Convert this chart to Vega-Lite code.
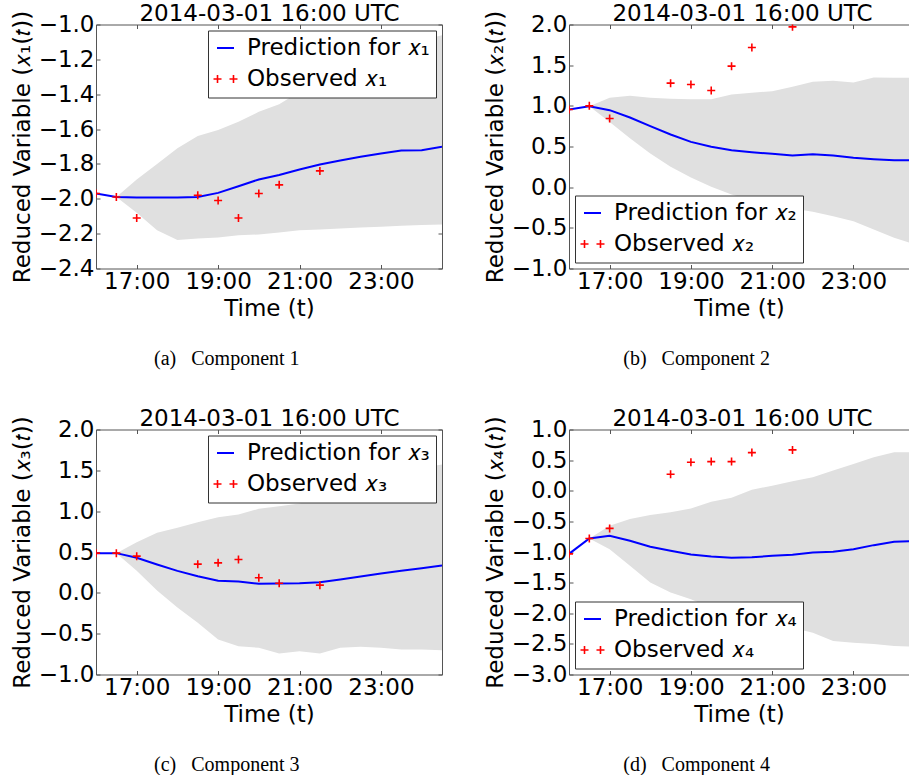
{
"$schema": "https://vega.github.io/schema/vega-lite/v6.json",
"background": "white",
"padding": {"left": 11, "top": 1.5, "right": 0, "bottom": 0},
"config": {
  "font": "DejaVu Sans",
  "view": {"stroke": null},
  "axis": {"labelFont": "DejaVu Sans", "labelFontSize": 23, "labelColor": "black", "titleFont": "DejaVu Sans", "titleFontSize": 23, "titleFontWeight": "normal", "titleColor": "black", "grid": false, "domainColor": "#555", "tickColor": "#555", "tickSize": -4, "labelPadding": 6, "labelOverlap": false, "labelFlush": false, "domainWidth": 1, "tickWidth": 1},
  "axisX": {"titlePadding": 4},
  "legend": {"labelFont": "DejaVu Sans", "labelFontSize": 23, "labelColor": "black", "labelLimit": 400, "symbolSize": 289, "symbolStrokeWidth": 2, "padding": 6, "rowPadding": 7, "labelOffset": 10, "strokeColor": "#333", "fillColor": "white", "offset": 6, "cornerRadius": 0},
  "title": {"font": "DejaVu Sans", "fontWeight": "normal", "color": "black"}
},
"datasets": {
  "c1": [
    {"t":"2014-03-01T16:00","pred":-1.97,"lo":null,"hi":null,"obs":-1.97},
    {"t":"2014-03-01T16:30","pred":-1.99,"lo":-1.99,"hi":-1.99,"obs":-1.99},
    {"t":"2014-03-01T17:00","pred":-1.993,"lo":-2.08,"hi":-1.89,"obs":-2.11},
    {"t":"2014-03-01T17:30","pred":-1.993,"lo":-2.18,"hi":-1.8,"obs":null},
    {"t":"2014-03-01T18:00","pred":-1.993,"lo":-2.237,"hi":-1.71,"obs":null},
    {"t":"2014-03-01T18:30","pred":-1.99,"lo":-2.228,"hi":-1.64,"obs":-1.98},
    {"t":"2014-03-01T19:00","pred":-1.966,"lo":-2.222,"hi":-1.606,"obs":-2.01},
    {"t":"2014-03-01T19:30","pred":-1.928,"lo":-2.209,"hi":-1.558,"obs":-2.11},
    {"t":"2014-03-01T20:00","pred":-1.889,"lo":-2.205,"hi":-1.501,"obs":-1.97},
    {"t":"2014-03-01T20:30","pred":-1.864,"lo":-2.193,"hi":-1.457,"obs":-1.92},
    {"t":"2014-03-01T21:00","pred":-1.832,"lo":-2.18,"hi":-1.386,"obs":null},
    {"t":"2014-03-01T21:30","pred":-1.803,"lo":-2.176,"hi":-1.32,"obs":-1.84},
    {"t":"2014-03-01T22:00","pred":-1.78,"lo":-2.17,"hi":-1.262,"obs":null},
    {"t":"2014-03-01T22:30","pred":-1.759,"lo":-2.165,"hi":-1.214,"obs":null},
    {"t":"2014-03-01T23:00","pred":-1.74,"lo":-2.161,"hi":-1.166,"obs":null},
    {"t":"2014-03-01T23:30","pred":-1.723,"lo":-2.155,"hi":-1.128,"obs":null},
    {"t":"2014-03-02T00:00","pred":-1.721,"lo":-2.151,"hi":-1.09,"obs":null},
    {"t":"2014-03-02T00:30","pred":-1.702,"lo":-2.147,"hi":-1.061,"obs":null}
  ],
  "c2": [
    {"t":"2014-03-01T16:00","pred":0.955,"lo":null,"hi":null,"obs":0.955},
    {"t":"2014-03-01T16:30","pred":0.996,"lo":0.996,"hi":0.996,"obs":1.0},
    {"t":"2014-03-01T17:00","pred":0.947,"lo":0.8,"hi":1.1,"obs":0.844},
    {"t":"2014-03-01T17:30","pred":0.857,"lo":0.6,"hi":1.123,"obs":null},
    {"t":"2014-03-01T18:00","pred":0.75,"lo":0.414,"hi":1.098,"obs":null},
    {"t":"2014-03-01T18:30","pred":0.648,"lo":0.25,"hi":1.086,"obs":1.279},
    {"t":"2014-03-01T19:00","pred":0.557,"lo":0.119,"hi":1.082,"obs":1.262},
    {"t":"2014-03-01T19:30","pred":0.496,"lo":0.004,"hi":1.082,"obs":1.189},
    {"t":"2014-03-01T20:00","pred":0.455,"lo":-0.09,"hi":1.139,"obs":1.488},
    {"t":"2014-03-01T20:30","pred":0.43,"lo":-0.16,"hi":1.16,"obs":1.717},
    {"t":"2014-03-01T21:00","pred":0.41,"lo":-0.213,"hi":1.18,"obs":null},
    {"t":"2014-03-01T21:30","pred":0.389,"lo":-0.262,"hi":1.234,"obs":1.971},
    {"t":"2014-03-01T22:00","pred":0.406,"lo":-0.303,"hi":1.295,"obs":null},
    {"t":"2014-03-01T22:30","pred":0.389,"lo":-0.357,"hi":1.307,"obs":null},
    {"t":"2014-03-01T23:00","pred":0.361,"lo":-0.418,"hi":1.287,"obs":null},
    {"t":"2014-03-01T23:30","pred":0.344,"lo":-0.52,"hi":1.348,"obs":null},
    {"t":"2014-03-02T00:00","pred":0.332,"lo":-0.623,"hi":1.344,"obs":null},
    {"t":"2014-03-02T00:30","pred":0.33,"lo":-0.7,"hi":1.344,"obs":null}
  ],
  "c3": [
    {"t":"2014-03-01T16:00","pred":0.486,"lo":null,"hi":null,"obs":0.486},
    {"t":"2014-03-01T16:30","pred":0.486,"lo":0.486,"hi":0.486,"obs":0.486},
    {"t":"2014-03-01T17:00","pred":0.429,"lo":0.27,"hi":0.62,"obs":0.449},
    {"t":"2014-03-01T17:30","pred":0.347,"lo":0.03,"hi":0.735,"obs":null},
    {"t":"2014-03-01T18:00","pred":0.269,"lo":-0.18,"hi":0.796,"obs":null},
    {"t":"2014-03-01T18:30","pred":0.204,"lo":-0.367,"hi":0.865,"obs":0.351},
    {"t":"2014-03-01T19:00","pred":0.147,"lo":-0.571,"hi":0.927,"obs":0.367},
    {"t":"2014-03-01T19:30","pred":0.139,"lo":-0.653,"hi":0.959,"obs":0.408},
    {"t":"2014-03-01T20:00","pred":0.11,"lo":-0.673,"hi":1.029,"obs":0.184},
    {"t":"2014-03-01T20:30","pred":0.114,"lo":-0.743,"hi":1.061,"obs":0.118},
    {"t":"2014-03-01T21:00","pred":0.118,"lo":-0.714,"hi":1.094,"obs":null},
    {"t":"2014-03-01T21:30","pred":0.131,"lo":-0.743,"hi":1.163,"obs":0.094},
    {"t":"2014-03-01T22:00","pred":0.163,"lo":-0.673,"hi":1.245,"obs":null},
    {"t":"2014-03-01T22:30","pred":0.2,"lo":-0.661,"hi":1.327,"obs":null},
    {"t":"2014-03-01T23:00","pred":0.237,"lo":-0.673,"hi":1.4,"obs":null},
    {"t":"2014-03-01T23:30","pred":0.269,"lo":-0.694,"hi":1.469,"obs":null},
    {"t":"2014-03-02T00:00","pred":0.302,"lo":-0.694,"hi":1.531,"obs":null},
    {"t":"2014-03-02T00:30","pred":0.335,"lo":-0.702,"hi":1.571,"obs":null}
  ],
  "c4": [
    {"t":"2014-03-01T16:00","pred":-1.03,"lo":null,"hi":null,"obs":-1.03},
    {"t":"2014-03-01T16:30","pred":-0.779,"lo":-0.779,"hi":-0.779,"obs":-0.779},
    {"t":"2014-03-01T17:00","pred":-0.735,"lo":-0.954,"hi":-0.572,"obs":-0.615},
    {"t":"2014-03-01T17:30","pred":-0.817,"lo":-1.226,"hi":-0.462,"obs":null},
    {"t":"2014-03-01T18:00","pred":-0.915,"lo":-1.499,"hi":-0.397,"obs":null},
    {"t":"2014-03-01T18:30","pred":-0.981,"lo":-1.663,"hi":-0.353,"obs":0.269},
    {"t":"2014-03-01T19:00","pred":-1.041,"lo":-1.772,"hi":-0.288,"obs":0.465},
    {"t":"2014-03-01T19:30","pred":-1.074,"lo":-1.909,"hi":-0.179,"obs":0.476},
    {"t":"2014-03-01T20:00","pred":-1.095,"lo":-2.018,"hi":-0.113,"obs":0.476},
    {"t":"2014-03-01T20:30","pred":-1.085,"lo":-2.1,"hi":0.018,"obs":0.623},
    {"t":"2014-03-01T21:00","pred":-1.063,"lo":-2.165,"hi":0.083,"obs":null},
    {"t":"2014-03-01T21:30","pred":-1.046,"lo":-2.236,"hi":0.154,"obs":0.667},
    {"t":"2014-03-01T22:00","pred":-1.008,"lo":-2.318,"hi":0.22,"obs":null},
    {"t":"2014-03-01T22:30","pred":-0.997,"lo":-2.454,"hi":0.329,"obs":null},
    {"t":"2014-03-01T23:00","pred":-0.954,"lo":-2.482,"hi":0.438,"obs":null},
    {"t":"2014-03-01T23:30","pred":-0.888,"lo":-2.503,"hi":0.547,"obs":null},
    {"t":"2014-03-02T00:00","pred":-0.834,"lo":-2.536,"hi":0.629,"obs":null},
    {"t":"2014-03-02T00:30","pred":-0.82,"lo":-2.547,"hi":0.63,"obs":null}
  ]
},
"resolve": {"scale": {"color": "independent"}},
"spacing": 38,
"vconcat": [
 {"hconcat": [
  {"title": {"text": "(a)\u2002 Component 1", "orient": "bottom", "anchor": "middle", "font": "Liberation Serif", "fontSize": 20, "fontWeight": "normal", "offset": 28},
   "resolve": {"scale": {"color": "independent"}},
   "vconcat": [{
    "width": 346, "height": 244,
    "data": {"name": "c1"},
    "layer": [
     {"transform": [{"filter": "isValid(datum.lo)"}],
      "mark": {"type": "area", "color": "#e0e0e0", "clip": true},
      "encoding": {
       "x": {"field": "t", "type": "temporal", "scale": {"domain": [{"year":2014,"month":3,"date":1,"hours":16},{"year":2014,"month":3,"date":2,"hours":0,"minutes":30}], "nice": false},
             "axis": {"orient": "bottom", "title": "Time (t)", "format": "%H:%M", "values": [{"year":2014,"month":3,"date":1,"hours":17},{"year":2014,"month":3,"date":1,"hours":19},{"year":2014,"month":3,"date":1,"hours":21},{"year":2014,"month":3,"date":1,"hours":23}]}},
       "y": {"field": "lo", "type": "quantitative", "scale": {"domain": [-2.4, -1.0], "nice": false, "zero": false},
             "axis": {"orient": "left", "title": "Reduced Variable (𝑥₁(𝑡))", "format": ".1f", "values": [-2.4,-2.2,-2.0,-1.8,-1.6,-1.4,-1.2,-1.0]}},
       "y2": {"field": "hi"}
      }},
     {"mark": {"type": "line", "strokeWidth": 2, "clip": true},
      "encoding": {
       "x": {"field": "t", "type": "temporal", "axis": {"orient": "top", "labels": false, "title": "2014-03-01 16:00 UTC", "titleBaseline": "alphabetic", "titlePadding": 3.6, "values": [{"year":2014,"month":3,"date":1,"hours":17},{"year":2014,"month":3,"date":1,"hours":19},{"year":2014,"month":3,"date":1,"hours":21},{"year":2014,"month":3,"date":1,"hours":23}]}},
       "y": {"field": "pred", "type": "quantitative", "axis": {"orient": "right", "labels": false, "title": null, "values": [-2.4,-2.2,-2.0,-1.8,-1.6,-1.4,-1.2,-1.0]}},
       "color": {"datum": "Prediction for 𝑥₁", "type": "nominal", "scale": {"domain": ["Prediction for 𝑥₁", "Observed 𝑥₁"], "range": ["#0000ff", "#ff0000"]},
                 "legend": {"title": null, "orient": "top-right", "encode": {"symbols": {"update": {"shape": {"signal": "datum.index === 1 ? 'M-1.41,0H-0.47M-0.94,-0.47V0.47M0.47,0H1.41M0.94,-0.47V0.47' : 'stroke'"}, "strokeWidth": {"signal": "datum.index === 1 ? 1.6 : 2"}}}}}}
      }},
     {"transform": [{"filter": "isValid(datum.obs)"}],
      "mark": {"type": "point", "shape": "M-1,0H1M0,-1V1", "size": 64, "filled": false, "strokeWidth": 1.6, "opacity": 1, "clip": true},
      "encoding": {
       "x": {"field": "t", "type": "temporal", "axis": null},
       "y": {"field": "obs", "type": "quantitative", "axis": null},
       "color": {"datum": "Observed 𝑥₁", "type": "nominal"}
      }}
    ]
   }]
  },
  {"title": {"text": "(b)\u2002 Component 2", "orient": "bottom", "anchor": "middle", "font": "Liberation Serif", "fontSize": 20, "fontWeight": "normal", "offset": 28},
   "resolve": {"scale": {"color": "independent"}},
   "vconcat": [{
    "width": 340, "height": 244,
    "data": {"name": "c2"},
    "layer": [
     {"transform": [{"filter": "isValid(datum.lo)"}],
      "mark": {"type": "area", "color": "#e0e0e0", "clip": true},
      "encoding": {
       "x": {"field": "t", "type": "temporal", "scale": {"domain": [{"year":2014,"month":3,"date":1,"hours":16},{"year":2014,"month":3,"date":2,"hours":0,"minutes":22}], "nice": false},
             "axis": {"orient": "bottom", "title": "Time (t)", "format": "%H:%M", "values": [{"year":2014,"month":3,"date":1,"hours":17},{"year":2014,"month":3,"date":1,"hours":19},{"year":2014,"month":3,"date":1,"hours":21},{"year":2014,"month":3,"date":1,"hours":23}]}},
       "y": {"field": "lo", "type": "quantitative", "scale": {"domain": [-1.0, 2.0], "nice": false, "zero": false},
             "axis": {"orient": "left", "title": "Reduced Variable (𝑥₂(𝑡))", "format": ".1f", "values": [-1.0,-0.5,0,0.5,1.0,1.5,2.0]}},
       "y2": {"field": "hi"}
      }},
     {"mark": {"type": "line", "strokeWidth": 2, "clip": true},
      "encoding": {
       "x": {"field": "t", "type": "temporal", "axis": {"orient": "top", "labels": false, "title": "2014-03-01 16:00 UTC", "titleBaseline": "alphabetic", "titlePadding": 3.6, "titleX": 173, "values": [{"year":2014,"month":3,"date":1,"hours":17},{"year":2014,"month":3,"date":1,"hours":19},{"year":2014,"month":3,"date":1,"hours":21},{"year":2014,"month":3,"date":1,"hours":23}]}},
       "y": {"field": "pred", "type": "quantitative", "axis": {"orient": "right", "labels": false, "ticks": false, "domain": false, "title": null, "minExtent": 0, "maxExtent": 0}},
       "color": {"datum": "Prediction for 𝑥₂", "type": "nominal", "scale": {"domain": ["Prediction for 𝑥₂", "Observed 𝑥₂"], "range": ["#0000ff", "#ff0000"]},
                 "legend": {"title": null, "orient": "bottom-left", "encode": {"symbols": {"update": {"shape": {"signal": "datum.index === 1 ? 'M-1.41,0H-0.47M-0.94,-0.47V0.47M0.47,0H1.41M0.94,-0.47V0.47' : 'stroke'"}, "strokeWidth": {"signal": "datum.index === 1 ? 1.6 : 2"}}}}}}
      }},
     {"transform": [{"filter": "isValid(datum.obs)"}],
      "mark": {"type": "point", "shape": "M-1,0H1M0,-1V1", "size": 64, "filled": false, "strokeWidth": 1.6, "opacity": 1, "clip": true},
      "encoding": {
       "x": {"field": "t", "type": "temporal", "axis": null},
       "y": {"field": "obs", "type": "quantitative", "axis": null},
       "color": {"datum": "Observed 𝑥₂", "type": "nominal"}
      }}
    ]
   }]
  }
 ], "spacing": 41, "resolve": {"scale": {"color": "independent"}}},
 {"hconcat": [
  {"title": {"text": "(c)\u2002 Component 3", "orient": "bottom", "anchor": "middle", "font": "Liberation Serif", "fontSize": 20, "fontWeight": "normal", "offset": 28},
   "resolve": {"scale": {"color": "independent"}},
   "vconcat": [{
    "width": 346, "height": 245,
    "data": {"name": "c3"},
    "layer": [
     {"transform": [{"filter": "isValid(datum.lo)"}],
      "mark": {"type": "area", "color": "#e0e0e0", "clip": true},
      "encoding": {
       "x": {"field": "t", "type": "temporal", "scale": {"domain": [{"year":2014,"month":3,"date":1,"hours":16},{"year":2014,"month":3,"date":2,"hours":0,"minutes":30}], "nice": false},
             "axis": {"orient": "bottom", "title": "Time (t)", "format": "%H:%M", "values": [{"year":2014,"month":3,"date":1,"hours":17},{"year":2014,"month":3,"date":1,"hours":19},{"year":2014,"month":3,"date":1,"hours":21},{"year":2014,"month":3,"date":1,"hours":23}]}},
       "y": {"field": "lo", "type": "quantitative", "scale": {"domain": [-1.0, 2.0], "nice": false, "zero": false},
             "axis": {"orient": "left", "title": "Reduced Variable (𝑥₃(𝑡))", "format": ".1f", "values": [-1.0,-0.5,0,0.5,1.0,1.5,2.0]}},
       "y2": {"field": "hi"}
      }},
     {"mark": {"type": "line", "strokeWidth": 2, "clip": true},
      "encoding": {
       "x": {"field": "t", "type": "temporal", "axis": {"orient": "top", "labels": false, "title": "2014-03-01 16:00 UTC", "titleBaseline": "alphabetic", "titlePadding": 3.6, "values": [{"year":2014,"month":3,"date":1,"hours":17},{"year":2014,"month":3,"date":1,"hours":19},{"year":2014,"month":3,"date":1,"hours":21},{"year":2014,"month":3,"date":1,"hours":23}]}},
       "y": {"field": "pred", "type": "quantitative", "axis": {"orient": "right", "labels": false, "title": null, "values": [-1.0,-0.5,0,0.5,1.0,1.5,2.0]}},
       "color": {"datum": "Prediction for 𝑥₃", "type": "nominal", "scale": {"domain": ["Prediction for 𝑥₃", "Observed 𝑥₃"], "range": ["#0000ff", "#ff0000"]},
                 "legend": {"title": null, "orient": "top-right", "encode": {"symbols": {"update": {"shape": {"signal": "datum.index === 1 ? 'M-1.41,0H-0.47M-0.94,-0.47V0.47M0.47,0H1.41M0.94,-0.47V0.47' : 'stroke'"}, "strokeWidth": {"signal": "datum.index === 1 ? 1.6 : 2"}}}}}}
      }},
     {"transform": [{"filter": "isValid(datum.obs)"}],
      "mark": {"type": "point", "shape": "M-1,0H1M0,-1V1", "size": 64, "filled": false, "strokeWidth": 1.6, "opacity": 1, "clip": true},
      "encoding": {
       "x": {"field": "t", "type": "temporal", "axis": null},
       "y": {"field": "obs", "type": "quantitative", "axis": null},
       "color": {"datum": "Observed 𝑥₃", "type": "nominal"}
      }}
    ]
   }]
  },
  {"title": {"text": "(d)\u2002 Component 4", "orient": "bottom", "anchor": "middle", "font": "Liberation Serif", "fontSize": 20, "fontWeight": "normal", "offset": 28},
   "resolve": {"scale": {"color": "independent"}},
   "vconcat": [{
    "width": 340, "height": 245,
    "data": {"name": "c4"},
    "layer": [
     {"transform": [{"filter": "isValid(datum.lo)"}],
      "mark": {"type": "area", "color": "#e0e0e0", "clip": true},
      "encoding": {
       "x": {"field": "t", "type": "temporal", "scale": {"domain": [{"year":2014,"month":3,"date":1,"hours":16},{"year":2014,"month":3,"date":2,"hours":0,"minutes":22}], "nice": false},
             "axis": {"orient": "bottom", "title": "Time (t)", "format": "%H:%M", "values": [{"year":2014,"month":3,"date":1,"hours":17},{"year":2014,"month":3,"date":1,"hours":19},{"year":2014,"month":3,"date":1,"hours":21},{"year":2014,"month":3,"date":1,"hours":23}]}},
       "y": {"field": "lo", "type": "quantitative", "scale": {"domain": [-3.0, 1.0], "nice": false, "zero": false},
             "axis": {"orient": "left", "title": "Reduced Variable (𝑥₄(𝑡))", "format": ".1f", "values": [-3.0,-2.5,-2.0,-1.5,-1.0,-0.5,0,0.5,1.0]}},
       "y2": {"field": "hi"}
      }},
     {"mark": {"type": "line", "strokeWidth": 2, "clip": true},
      "encoding": {
       "x": {"field": "t", "type": "temporal", "axis": {"orient": "top", "labels": false, "title": "2014-03-01 16:00 UTC", "titleBaseline": "alphabetic", "titlePadding": 3.6, "titleX": 173, "values": [{"year":2014,"month":3,"date":1,"hours":17},{"year":2014,"month":3,"date":1,"hours":19},{"year":2014,"month":3,"date":1,"hours":21},{"year":2014,"month":3,"date":1,"hours":23}]}},
       "y": {"field": "pred", "type": "quantitative", "axis": {"orient": "right", "labels": false, "ticks": false, "domain": false, "title": null, "minExtent": 0, "maxExtent": 0}},
       "color": {"datum": "Prediction for 𝑥₄", "type": "nominal", "scale": {"domain": ["Prediction for 𝑥₄", "Observed 𝑥₄"], "range": ["#0000ff", "#ff0000"]},
                 "legend": {"title": null, "orient": "bottom-left", "encode": {"symbols": {"update": {"shape": {"signal": "datum.index === 1 ? 'M-1.41,0H-0.47M-0.94,-0.47V0.47M0.47,0H1.41M0.94,-0.47V0.47' : 'stroke'"}, "strokeWidth": {"signal": "datum.index === 1 ? 1.6 : 2"}}}}}}
      }},
     {"transform": [{"filter": "isValid(datum.obs)"}],
      "mark": {"type": "point", "shape": "M-1,0H1M0,-1V1", "size": 64, "filled": false, "strokeWidth": 1.6, "opacity": 1, "clip": true},
      "encoding": {
       "x": {"field": "t", "type": "temporal", "axis": null},
       "y": {"field": "obs", "type": "quantitative", "axis": null},
       "color": {"datum": "Observed 𝑥₄", "type": "nominal"}
      }}
    ]
   }]
  }
 ], "spacing": 41, "resolve": {"scale": {"color": "independent"}}}
]
}
